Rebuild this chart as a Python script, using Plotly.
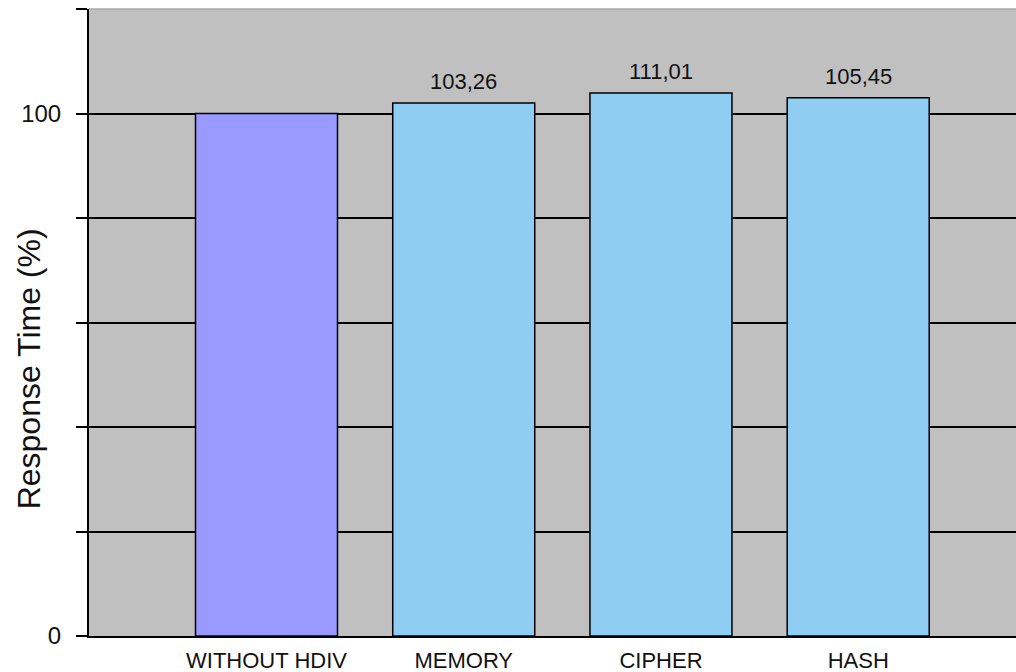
import plotly.graph_objects as go

categories = ["WITHOUT HDIV", "MEMORY", "CIPHER", "HASH"]
bar_heights = [100, 102.0, 103.9, 103.0]
value_labels = ["", "103,26", "111,01", "105,45"]
bar_colors = ["#9999FF", "#8FCEF2", "#8FCEF2", "#8FCEF2"]
y_tickvals = [0, 20, 40, 60, 80, 100, 120]
y_ticktext = ["0", "", "", "", "", "100", ""]

x_pos = list(range(len(categories)))

fig = go.Figure()
fig.add_trace(go.Bar(
    x=x_pos,
    y=bar_heights,
    width=0.72,
    marker=dict(color=bar_colors, line=dict(color="#000000", width=1.5)),
    hoverinfo="skip",
))

label_annotations = [
    dict(x=xp, y=h, xref="x", yref="y", text=t, showarrow=False,
         yanchor="bottom", xanchor="center", yshift=7,
         font=dict(size=22, color="#111111"))
    for xp, h, t in zip(x_pos, bar_heights, value_labels) if t
]

fig.update_layout(
    width=1016,
    height=672,
    margin=dict(l=89, r=0, t=9, b=36),
    paper_bgcolor="#FFFFFF",
    plot_bgcolor="#C0C0C0",
    showlegend=False,
    font=dict(family="Liberation Sans, Arial, sans-serif", color="#111111"),
    xaxis=dict(
        range=[-0.90, 3.80],
        tickvals=x_pos,
        ticktext=categories,
        tickfont=dict(size=22, color="#111111"),
        showgrid=False,
        zeroline=False,
        showline=True,
        linecolor="#000000",
        linewidth=2,
        ticks="",
        ticklabelstandoff=4,
        fixedrange=True,
    ),
    yaxis=dict(
        range=[0, 120],
        tickvals=y_tickvals,
        ticktext=y_ticktext,
        tickfont=dict(size=24, color="#111111"),
        showgrid=True,
        gridcolor="#000000",
        gridwidth=1.5,
        zeroline=False,
        showline=True,
        linecolor="#000000",
        linewidth=2,
        ticks="outside",
        ticklen=11,
        tickwidth=1.5,
        tickcolor="#000000",
        ticklabelstandoff=10,
        fixedrange=True,
    ),
    shapes=[dict(type="line", xref="paper", yref="paper", x0=0, x1=1, y0=1, y1=1,
                 line=dict(color="#A8A8A8", width=1.5))],
    annotations=label_annotations + [dict(
        text="Response Time (%)",
        xref="paper", yref="paper",
        x=-0.0653, y=0.426,
        textangle=-90,
        showarrow=False,
        font=dict(size=32, color="#111111"),
        xanchor="center", yanchor="middle",
    )],
)

fig.write_html("out.html")
